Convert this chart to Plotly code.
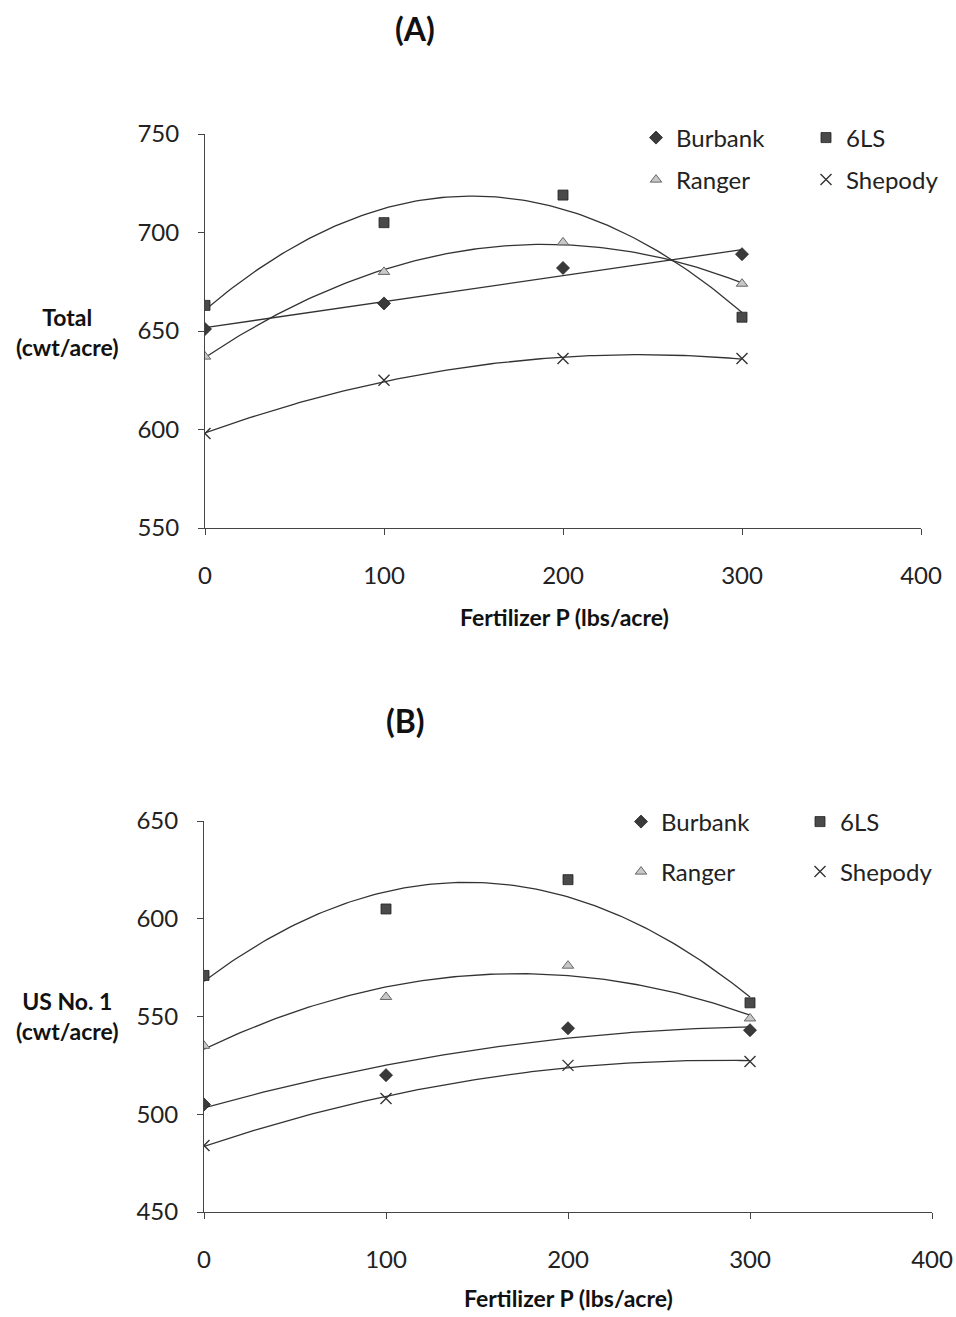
import numpy as np
import plotly.graph_objects as go

W, H = 956, 1317

# ---------------- data ----------------
fert_p = [0, 100, 200, 300]
varieties = ["Burbank", "6LS", "Ranger", "Shepody"]

total_burbank = [651, 664, 682, 689]
total_6ls = [663, 705, 719, 657]
total_ranger = [637, 680, 695, 674]
total_shepody = [598, 625, 636, 636]

us1_burbank = [505, 520, 544, 543]
us1_6ls = [571, 605, 620, 557]
us1_ranger = [535, 560, 576, 549]
us1_shepody = [484, 508, 525, 527]

x_ticks = [0, 100, 200, 300, 400]
total_ticks = [550, 600, 650, 700, 750]
us1_ticks = [450, 500, 550, 600, 650]

# trendline order per panel (Excel-style trendlines)
total_trend_deg = [1, 2, 2, 2]
us1_trend_deg = [2, 2, 2, 2]

FONT = "Lato, 'Open Sans', sans-serif"
INK = "#222222"
LINE = "#333333"

markers = {
    "Burbank": dict(symbol="diamond", size=10, color="#3a3a3a", line=dict(color="#222", width=0.8)),
    "6LS": dict(symbol="square", size=10, color="#4a4a4a", line=dict(color="#222", width=0.8)),
    "Ranger": dict(symbol="triangle-up", size=10, color="#c8c8c8", line=dict(color="#666", width=1)),
    "Shepody": dict(symbol="x-thin", size=11, color="#333333", line=dict(color="#333333", width=1.4)),
}


def px_x(p):
    return p / W


def px_y(p):
    return 1 - p / H


fig = go.Figure()

panels = [
    dict(xa="x", ya="y", series=[total_burbank, total_6ls, total_ranger, total_shepody],
         deg=total_trend_deg),
    dict(xa="x2", ya="y2", series=[us1_burbank, us1_6ls, us1_ranger, us1_shepody],
         deg=us1_trend_deg),
]
# legends: row1 -> Burbank, 6LS ; row2 -> Ranger, Shepody
row_legend = {0: ["legend", "legend2"], 1: ["legend3", "legend4"]}

xs_fine = np.linspace(0, 300, 121)
for pi, pan in enumerate(panels):
    for vi, (name, ys) in enumerate(zip(varieties, pan["series"])):
        coef = np.polyfit(fert_p, ys, pan["deg"][vi])
        fig.add_trace(go.Scatter(
            x=xs_fine, y=np.polyval(coef, xs_fine), mode="lines",
            line=dict(color=LINE, width=1.3), showlegend=False, hoverinfo="skip",
            xaxis=pan["xa"], yaxis=pan["ya"]))
    for vi, (name, ys) in enumerate(zip(varieties, pan["series"])):
        leg = row_legend[pi][0] if name in ("Burbank", "6LS") else row_legend[pi][1]
        fig.add_trace(go.Scatter(
            x=fert_p, y=ys, mode="markers", name=name, marker=markers[name],
            legend=leg, xaxis=pan["xa"], yaxis=pan["ya"]))

axis_common = dict(
    showline=True, linecolor="#444", linewidth=1, ticks="outside", ticklen=6,
    tickcolor="#444", tickwidth=1, showgrid=False, zeroline=False,
    tickfont=dict(family=FONT, size=24, color=INK),
)

fig.update_layout(
    width=W, height=H, margin=dict(l=0, r=0, t=0, b=0, autoexpand=False),
    paper_bgcolor="white", plot_bgcolor="white",
    font=dict(family=FONT, color=INK),
    xaxis=dict(domain=[px_x(205), px_x(921)], range=[0, 400], tickvals=x_ticks,
               anchor="y", ticklabelstandoff=20, **axis_common),
    yaxis=dict(domain=[px_y(528), px_y(134)], range=[550, 750], tickvals=total_ticks,
               anchor="x", ticklabelstandoff=14, **axis_common),
    xaxis2=dict(domain=[px_x(204), px_x(932)], range=[0, 400], tickvals=x_ticks,
                anchor="y2", ticklabelstandoff=20, **axis_common),
    yaxis2=dict(domain=[px_y(1212), px_y(821)], range=[450, 650], tickvals=us1_ticks,
                anchor="x2", ticklabelstandoff=14, **axis_common),
    showlegend=True,
)

leg_common = dict(orientation="h", entrywidthmode="pixels",
                  bgcolor="rgba(0,0,0,0)", font=dict(family=FONT, size=24, color=INK),
                  xanchor="left", yanchor="middle", itemwidth=30)
fig.update_layout(
    legend=dict(x=px_x(636), y=px_y(138), entrywidth=125, **leg_common),
    legend2=dict(x=px_x(636), y=px_y(180), entrywidth=125, **leg_common),
    legend3=dict(x=px_x(621), y=px_y(822), entrywidth=134, **leg_common),
    legend4=dict(x=px_x(621), y=px_y(872), entrywidth=134, **leg_common),
)

annots = [
    dict(text="<b>(A)</b>", x=px_x(415), y=px_y(28), size=32),
    dict(text="<b>(B)</b>", x=px_x(405), y=px_y(720), size=32),
    dict(text="<b>Total<br>(cwt/acre)</b>", x=px_x(67), y=px_y(332), size=23),
    dict(text="<b>US No. 1<br>(cwt/acre)</b>", x=px_x(67), y=px_y(1016), size=23),
    dict(text="<b>Fertilizer P (lbs/acre)</b>", x=px_x(564), y=px_y(617), size=23),
    dict(text="<b>Fertilizer P (lbs/acre)</b>", x=px_x(568), y=px_y(1298), size=23),
]
for a in annots:
    fig.add_annotation(text=a["text"], x=a["x"], y=a["y"], xref="paper", yref="paper",
                       showarrow=False, xanchor="center", yanchor="middle",
                       font=dict(family=FONT, size=a["size"], color="#111"))

# remove the default 8px page margin so the figure fills the window exactly
fig.write_html("out.html", config={"displayModeBar": False},
               post_script="document.body.style.margin='0';document.body.style.overflow='hidden';")
